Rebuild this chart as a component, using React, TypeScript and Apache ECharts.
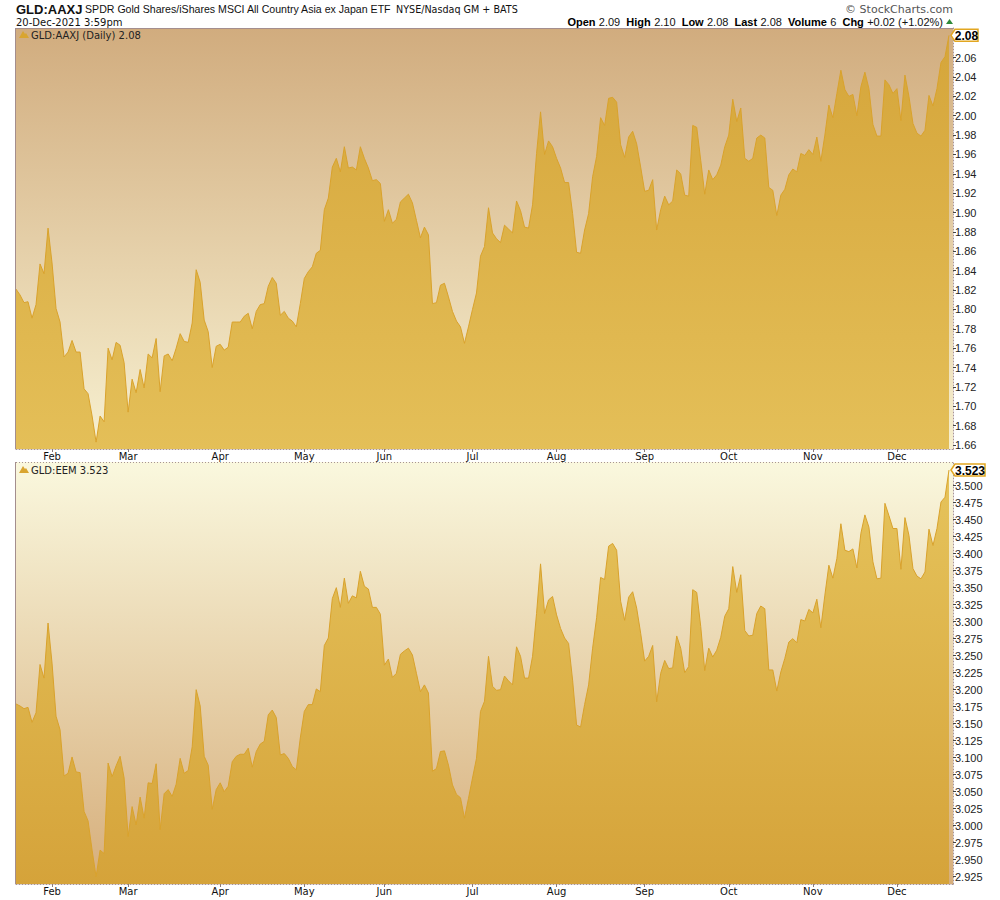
import React, { useEffect, useRef } from "react";
import * as echarts from "echarts";

// ---------- data ----------
const MONTHS = ["Jan", "Feb", "Mar", "Apr", "May", "Jun", "Jul", "Aug", "Sep", "Oct", "Nov", "Dec"];
const HOLIDAYS = ["2021-02-15", "2021-04-02", "2021-05-31", "2021-07-05", "2021-09-06", "2021-11-25"];
const FIRST_DAY = "2021-01-19";
const LAST_DAY = "2021-12-20";

const AAXJ = [
  1.821, 1.815, 1.807, 1.808, 1.791, 1.805, 1.847, 1.837, 1.884, 1.848,
  1.801, 1.787, 1.751, 1.756, 1.768, 1.756, 1.756, 1.718, 1.713, 1.690,
  1.663, 1.690, 1.684, 1.760, 1.748, 1.766, 1.763, 1.745, 1.694, 1.728,
  1.714, 1.738, 1.719, 1.754, 1.750, 1.770, 1.715, 1.752, 1.754, 1.747,
  1.760, 1.775, 1.767, 1.766, 1.786, 1.841, 1.828, 1.789, 1.777, 1.740,
  1.762, 1.764, 1.758, 1.761, 1.787, 1.787, 1.787, 1.793, 1.796, 1.780,
  1.798, 1.805, 1.806, 1.824, 1.833, 1.827, 1.794, 1.798, 1.791, 1.788,
  1.782, 1.806, 1.832, 1.839, 1.844, 1.858, 1.861, 1.903, 1.915, 1.947,
  1.956, 1.942, 1.968, 1.946, 1.947, 1.944, 1.968, 1.956, 1.946, 1.933,
  1.934, 1.930, 1.891, 1.903, 1.889, 1.893, 1.911, 1.915, 1.919, 1.910,
  1.892, 1.874, 1.885, 1.877, 1.806, 1.807, 1.825, 1.827, 1.813, 1.798,
  1.788, 1.782, 1.765, 1.782, 1.800, 1.817, 1.855, 1.865, 1.905, 1.879,
  1.873, 1.869, 1.887, 1.883, 1.879, 1.912, 1.902, 1.885, 1.884, 1.908,
  1.961, 2.004, 1.960, 1.974, 1.968, 1.956, 1.946, 1.931, 1.931, 1.899,
  1.859, 1.858, 1.882, 1.899, 1.937, 1.958, 1.998, 1.990, 2.018, 2.019,
  2.014, 1.970, 1.957, 1.978, 1.984, 1.971, 1.947, 1.922, 1.923, 1.934,
  1.882, 1.903, 1.917, 1.908, 1.912, 1.944, 1.940, 1.918, 1.917, 1.990,
  1.988, 1.954, 1.919, 1.944, 1.934, 1.939, 1.949, 1.968, 1.980, 2.017,
  1.994, 2.008, 1.956, 1.953, 1.956, 1.977, 1.980, 1.977, 1.926, 1.923,
  1.897, 1.918, 1.924, 1.939, 1.945, 1.942, 1.961, 1.959, 1.965, 1.960,
  1.978, 1.953, 1.980, 2.011, 1.998, 2.023, 2.047, 2.027, 2.020, 2.022,
  2.000, 2.030, 2.045, 2.028, 1.991, 1.979, 1.979, 2.037, 2.032, 2.023,
  2.028, 1.995, 2.042, 2.020, 1.992, 1.982, 1.979, 1.985, 2.021, 2.010,
  2.028, 2.055, 2.061, 2.083,
];

const EEM = [
  3.179, 3.176, 3.172, 3.174, 3.152, 3.166, 3.237, 3.217, 3.298, 3.239,
  3.161, 3.141, 3.073, 3.077, 3.101, 3.079, 3.078, 3.021, 3.007, 2.964,
  2.925, 2.964, 2.959, 3.092, 3.072, 3.088, 3.102, 3.070, 2.984, 3.028,
  3.001, 3.042, 3.011, 3.063, 3.062, 3.091, 2.994, 3.047, 3.053, 3.043,
  3.061, 3.099, 3.077, 3.081, 3.116, 3.200, 3.176, 3.102, 3.089, 3.024,
  3.053, 3.063, 3.050, 3.058, 3.094, 3.102, 3.105, 3.105, 3.114, 3.086,
  3.109, 3.120, 3.124, 3.163, 3.170, 3.159, 3.104, 3.106, 3.099, 3.087,
  3.082, 3.129, 3.168, 3.178, 3.178, 3.201, 3.197, 3.265, 3.276, 3.334,
  3.350, 3.321, 3.364, 3.327, 3.338, 3.335, 3.374, 3.352, 3.348, 3.321,
  3.321, 3.311, 3.236, 3.245, 3.218, 3.224, 3.252, 3.257, 3.261, 3.251,
  3.224, 3.197, 3.207, 3.195, 3.080, 3.084, 3.109, 3.110, 3.089, 3.060,
  3.046, 3.041, 3.011, 3.040, 3.070, 3.099, 3.168, 3.183, 3.249, 3.205,
  3.199, 3.200, 3.220, 3.213, 3.207, 3.263, 3.249, 3.217, 3.217, 3.249,
  3.312, 3.385, 3.312, 3.332, 3.337, 3.310, 3.290, 3.276, 3.268, 3.214,
  3.148, 3.145, 3.178, 3.207, 3.261, 3.306, 3.365, 3.362, 3.411, 3.415,
  3.405, 3.330, 3.302, 3.336, 3.344, 3.320, 3.283, 3.242, 3.249, 3.265,
  3.182, 3.224, 3.243, 3.231, 3.232, 3.279, 3.261, 3.225, 3.234, 3.347,
  3.343, 3.293, 3.228, 3.261, 3.248, 3.258, 3.277, 3.308, 3.319, 3.381,
  3.343, 3.369, 3.287, 3.279, 3.280, 3.312, 3.323, 3.319, 3.229, 3.229,
  3.198, 3.226, 3.246, 3.270, 3.275, 3.269, 3.303, 3.301, 3.318, 3.313,
  3.333, 3.291, 3.339, 3.383, 3.364, 3.393, 3.444, 3.405, 3.403, 3.407,
  3.379, 3.430, 3.457, 3.439, 3.388, 3.363, 3.364, 3.474, 3.456, 3.437,
  3.437, 3.377, 3.453, 3.427, 3.378, 3.367, 3.363, 3.373, 3.436, 3.412,
  3.437, 3.476, 3.483, 3.523,
];

const AAXJ_TICKS = [1.66, 1.68, 1.70, 1.72, 1.74, 1.76, 1.78, 1.80, 1.82, 1.84, 1.86, 1.88, 1.90, 1.92, 1.94, 1.96, 1.98, 2.00, 2.02, 2.04, 2.06];
const EEM_TICKS = [2.925, 2.95, 2.975, 3.0, 3.025, 3.05, 3.075, 3.1, 3.125, 3.15, 3.175, 3.2, 3.225, 3.25, 3.275, 3.3, 3.325, 3.35, 3.375, 3.4, 3.425, 3.45, 3.475, 3.5];

const AAXJ_RANGE = [1.6559, 2.0906];
const EEM_RANGE = [2.9142, 3.5348];

const TITLE_SYMBOL = "GLD:AAXJ";
const TITLE_NAME = "SPDR Gold Shares/iShares MSCI All Country Asia ex Japan ETF";
const TITLE_EXCH = "NYSE/Nasdaq GM + BATS";
const TITLE_DATE = "20-Dec-2021 3:59pm";
const QUOTE = [
  ["Open", "2.09"],
  ["High", "2.10"],
  ["Low", "2.08"],
  ["Last", "2.08"],
  ["Volume", "6"],
  ["Chg", "+0.02 (+1.02%)"],
];
const TOP_LABEL = "GLD:AAXJ (Daily) 2.08";
const BOTTOM_LABEL = "GLD:EEM 3.523";
const TOP_LAST = "2.08";
const BOTTOM_LAST = "3.523";

// ---------- helpers ----------
function buildDays(): string[] {
  const out: string[] = [];
  const d = new Date(FIRST_DAY + "T12:00:00Z");
  const end = new Date(LAST_DAY + "T12:00:00Z");
  while (d.getTime() <= end.getTime()) {
    const dow = d.getUTCDay();
    const s = d.toISOString().slice(0, 10);
    if (dow !== 0 && dow !== 6 && HOLIDAYS.indexOf(s) < 0) out.push(s);
    d.setUTCDate(d.getUTCDate() + 1);
  }
  return out;
}

const SANS = "Liberation Sans, Arial, sans-serif";
const VERD = "DejaVu Sans, Verdana, sans-serif";

export default function App() {
  const ref = useRef<HTMLDivElement>(null);

  useEffect(() => {
    document.body.style.margin = "0";
    if (!ref.current) return;
    const chart = echarts.init(ref.current, null, { renderer: "svg" });

    const days = buildDays();
    const cats = days.concat([""]);
    const isMonthStart = (i: number) =>
      i > 0 && cats[i] !== "" && cats[i - 1] !== "" && cats[i].slice(5, 7) !== cats[i - 1].slice(5, 7);
    const monthName = (v: string) => (v ? MONTHS[parseInt(v.slice(5, 7), 10) - 1] : "");

    const panels = [
      { top: 28, height: 421 },
      { top: 462, height: 422 },
    ];
    const LEFT = 16;
    const WIDTH = 937;

    const xAxisBase = (gridIndex: number) => ({
      type: "category" as const,
      gridIndex,
      data: cats,
      boundaryGap: false,
      axisLine: { show: true, lineStyle: { color: "#a89494", type: [1, 2] as any, width: 1 } },
      axisTick: {
        show: true,
        interval: (i: number) => isMonthStart(i),
        length: 3,
        lineStyle: { color: "#8a7a7a" },
      },
      axisLabel: {
        interval: (i: number) => isMonthStart(i),
        formatter: (v: string) => monthName(v),
        fontFamily: VERD,
        fontSize: 10,
        color: "#111",
        margin: 2,
      },
      splitLine: { show: false },
    });

    const yAxisBase = (gridIndex: number, range: number[], ticks: number[], dec: number) => ({
      type: "value" as const,
      gridIndex,
      position: "right" as const,
      min: range[0],
      max: range[1],
      axisLine: { show: true, lineStyle: { color: "#a89494", type: [1, 2] as any } },
      axisTick: { show: true, length: 3, customValues: ticks, lineStyle: { color: "#444" } },
      axisLabel: {
        customValues: ticks,
        formatter: (v: number) => v.toFixed(dec),
        fontFamily: SANS,
        fontSize: 11,
        color: "#222",
        margin: 2,
      },
      splitLine: { show: false },
    });

    const topArea = new echarts.graphic.LinearGradient(0, 28, 0, 449, [
      { offset: 0, color: "#d5a53a" },
      { offset: 1, color: "#e4bf58" },
    ], true);
    const botArea = new echarts.graphic.LinearGradient(0, 462, 0, 884, [
      { offset: 0, color: "#e6c45c" },
      { offset: 1, color: "#d5a33a" },
    ], true);

    chart.setOption({
      animation: false,
      grid: panels.map((p) => ({ left: LEFT, top: p.top, width: WIDTH, height: p.height, containLabel: false })),
      xAxis: [xAxisBase(0), xAxisBase(1)],
      yAxis: [
        yAxisBase(0, AAXJ_RANGE, AAXJ_TICKS, 2),
        yAxisBase(1, EEM_RANGE, EEM_TICKS, 3),
      ],
      series: [
        {
          type: "line",
          xAxisIndex: 0,
          yAxisIndex: 0,
          data: AAXJ,
          symbol: "none",
          lineStyle: { color: "#d9a22c", width: 1 },
          areaStyle: { color: topArea, opacity: 1, origin: "start" },
          z: 2,
        },
        {
          type: "line",
          xAxisIndex: 1,
          yAxisIndex: 1,
          data: EEM,
          symbol: "none",
          lineStyle: { color: "#d9a22c", width: 1 },
          areaStyle: { color: botArea, opacity: 1, origin: "start" },
          z: 2,
        },
      ],
    });

    const pTop = chart.convertToPixel({ seriesIndex: 0 }, [AAXJ.length - 1, AAXJ[AAXJ.length - 1]]) as number[];
    const pBot = chart.convertToPixel({ seriesIndex: 1 }, [EEM.length - 1, EEM[EEM.length - 1]]) as number[];

    const tag = (yc: number, text: string, w: number, top: number) => {
      const y = Math.max(yc, top + 7);
      const x0 = 951;
      const x1 = 955 + w;
      return [
        {
          type: "polygon",
          z: 100,
          shape: { points: [[x0, y], [x0 + 4, y - 6], [x1, y - 6], [x1, y + 6], [x0 + 4, y + 6]] },
          style: { fill: "#ffffff", stroke: "#e2a620", lineWidth: 1.5 },
        },
        {
          type: "text",
          z: 101,
          x: x0 + 4 + (x1 - x0 - 4) / 2,
          y: y + 0.5,
          style: {
            text,
            fill: "#000",
            font: `bold 12px ${SANS}`,
            textAlign: "center",
            textVerticalAlign: "middle",
          },
        },
      ];
    };

    const richQuote = QUOTE.map(([k, v]) => `{b|${k}} {n|${v}}`).join("{n|  }");

    chart.setOption({
      graphic: [
        // panel backgrounds
        {
          type: "rect",
          z: -10,
          shape: { x: LEFT, y: 28, width: WIDTH, height: 421 },
          style: {
            fill: new echarts.graphic.LinearGradient(0, 0, 0, 1, [
              { offset: 0, color: "#d1ac7e" },
              { offset: 1, color: "#f7f0d0" },
            ]),
          },
        },
        {
          type: "rect",
          z: -10,
          shape: { x: LEFT, y: 462, width: WIDTH, height: 422 },
          style: {
            fill: new echarts.graphic.LinearGradient(0, 0, 0, 1, [
              { offset: 0, color: "#faf8de" },
              { offset: 1, color: "#d6ae7b" },
            ]),
          },
        },
        // borders
        { type: "line", z: 50, shape: { x1: LEFT, y1: 28.5, x2: LEFT + WIDTH, y2: 28.5 }, style: { stroke: "#a48e8e", lineWidth: 1 } },
        { type: "line", z: 50, shape: { x1: LEFT - 0.5, y1: 28, x2: LEFT - 0.5, y2: 449 }, style: { stroke: "#a48e8e", lineWidth: 1 } },
        { type: "line", z: 50, shape: { x1: LEFT, y1: 462.5, x2: LEFT + WIDTH, y2: 462.5 }, style: { stroke: "#a89494", lineWidth: 1, lineDash: [1, 2] } },
        { type: "line", z: 50, shape: { x1: LEFT - 0.5, y1: 462, x2: LEFT - 0.5, y2: 884 }, style: { stroke: "#a48e8e", lineWidth: 1 } },
        // header
        {
          type: "text", z: 100, x: 16, y: 9,
          style: { text: TITLE_SYMBOL, font: `bold 13px ${SANS}`, fill: "#111", textVerticalAlign: "middle" },
        },
        {
          type: "text", z: 100, x: 85, y: 9,
          style: { text: TITLE_NAME, font: `10.6px ${SANS}`, fill: "#111", textVerticalAlign: "middle" },
        },
        {
          type: "text", z: 100, x: 396, y: 9.5,
          style: { text: TITLE_EXCH, font: `9.6px ${VERD}`, fill: "#111", textVerticalAlign: "middle" },
        },
        {
          type: "text", z: 100, x: 16, y: 22,
          style: { text: TITLE_DATE, font: `10px ${VERD}`, fill: "#111", textVerticalAlign: "middle" },
        },
        {
          type: "text", z: 100, x: 953, y: 9,
          style: { text: "\u00A9 StockCharts.com", font: `11px ${VERD}`, fill: "#555", textAlign: "right", textVerticalAlign: "middle" },
        },
        {
          type: "text", z: 100, x: 943, y: 22,
          style: {
            text: richQuote,
            textAlign: "right",
            textVerticalAlign: "middle",
            rich: {
              b: { fontFamily: SANS, fontSize: 11, fontWeight: "bold", fill: "#000" },
              n: { fontFamily: SANS, fontSize: 11, fill: "#111" },
            },
          },
        },
        {
          type: "polygon", z: 100,
          shape: { points: [[946, 24], [949.5, 19], [953, 24]] },
          style: { fill: "#2f8a3a" },
        },
        // panel labels
        {
          type: "polygon", z: 100,
          shape: { points: [[19, 38], [23, 31], [25, 34], [26, 33], [29, 38]] },
          style: { fill: "#d9a530" },
        },
        {
          type: "text", z: 100, x: 31, y: 35,
          style: { text: TOP_LABEL, font: `10px ${VERD}`, fill: "#222", textVerticalAlign: "middle" },
        },
        {
          type: "polygon", z: 100,
          shape: { points: [[19, 473], [23, 466], [25, 469], [26, 468], [29, 473]] },
          style: { fill: "#d9a530" },
        },
        {
          type: "text", z: 100, x: 31, y: 470,
          style: { text: BOTTOM_LABEL, font: `10px ${VERD}`, fill: "#222", textVerticalAlign: "middle" },
        },
        ...tag(pTop[1], TOP_LAST, 23, 28),
        ...tag(pBot[1], BOTTOM_LAST, 30, 462),
      ],
    });

    return () => {
      chart.dispose();
    };
  }, []);

  return <div ref={ref} style={{ width: 1000, height: 900 }} />;
}
